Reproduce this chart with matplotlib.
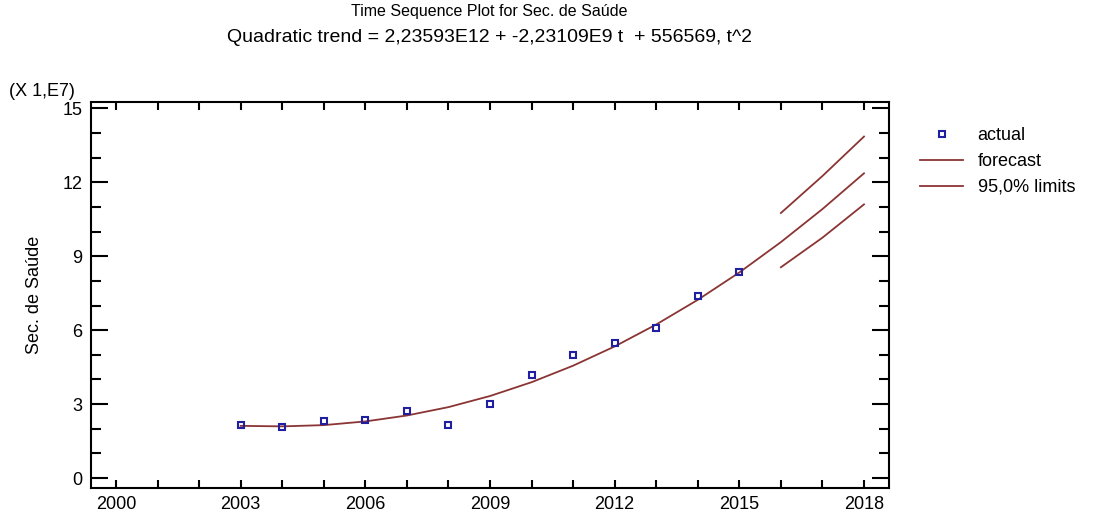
"""# Modulo Grafico"""
import matplotlib.pyplot as plt
from matplotlib.ticker import MultipleLocator

"""# Fonte parecida com a do Statgraphics (Arial)"""
plt.rcParams['font.family'] = ['Liberation Sans', 'DejaVu Sans']

"""#### Dados (valores em unidades de 1E7)"""
anos = [2003, 2004, 2005, 2006, 2007, 2008, 2009, 2010, 2011, 2012, 2013, 2014, 2015]
valores_reais = [2.17, 2.06, 2.30, 2.34, 2.74, 2.14, 3.02, 4.20, 5.00, 5.48, 6.10, 7.40, 8.37]

anos_previsao = [2003, 2004, 2005, 2006, 2007, 2008, 2009, 2010, 2011, 2012,
                 2013, 2014, 2015, 2016, 2017, 2018]
valores_previsao = [2.12, 2.10, 2.15, 2.30, 2.54, 2.88, 3.33, 3.89, 4.56, 5.34,
                    6.23, 7.23, 8.34, 9.57, 10.91, 12.36]

anos_limites = [2016, 2017, 2018]
limite_superior = [10.75, 12.25, 13.85]
limite_inferior = [8.55, 9.75, 11.10]

cor_linha = '#8b3434'
cor_ponto = '#1f1fa0'

"""# Criando a figura"""
fig = plt.figure(figsize=(10.93, 5.2), dpi=100)
ax = fig.add_axes([0.0833, 0.0615, 0.730, 0.7423])

"""# Linhas de previsao e limites"""
ax.plot(anos_previsao, valores_previsao, color=cor_linha, lw=1.3, label='forecast')
ax.plot(anos_limites, limite_superior, color=cor_linha, lw=1.3, label='95,0% limits')
ax.plot(anos_limites, limite_inferior, color=cor_linha, lw=1.3)

"""# Pontos reais"""
ax.plot(anos, valores_reais, linestyle='none', marker='s', markersize=5,
        markerfacecolor='none', markeredgecolor=cor_ponto, markeredgewidth=1.5,
        label='actual')

"""# Eixos"""
ax.set_xlim(1999.4, 2018.6)
ax.set_ylim(-0.4, 15.25)
ax.set_xticks([2000, 2003, 2006, 2009, 2012, 2015, 2018])
ax.xaxis.set_minor_locator(MultipleLocator(1))
ax.set_yticks([0, 3, 6, 9, 12, 15])
ax.yaxis.set_minor_locator(MultipleLocator(1))
ax.tick_params(axis='x', which='both', direction='in', length=6, width=1.5,
               top=True, labelsize=13, pad=6)
ax.tick_params(axis='y', which='major', direction='in', length=12, width=1.5,
               right=True, labelsize=13, pad=6)
ax.tick_params(axis='y', which='minor', direction='in', length=7, width=1.5, right=True)
for lado in ax.spines.values():
    lado.set_linewidth(1.5)

ax.set_ylabel('Sec. de Saúde', fontsize=13, labelpad=14)
fig.text(0.008, 0.825, '(X 1,E7)', fontsize=13, ha='left', va='center')

"""# Titulo"""
fig.text(0.448, 0.978, 'Time Sequence Plot for Sec. de Saúde', fontsize=11.5,
         ha='center', va='center')
fig.text(0.448, 0.927, 'Quadratic trend = 2,23593E12 + -2,23109E9 t  + 556569, t^2',
         fontsize=14, ha='center', va='center')

"""# Legenda fora do grafico"""
h, l = ax.get_legend_handles_labels()
ax.legend([h[2], h[0], h[1]], [l[2], l[0], l[1]], loc='upper left',
          bbox_to_anchor=(0.835, 0.77), bbox_transform=fig.transFigure,
          frameon=False, fontsize=13, handlelength=2.4, handletextpad=0.8,
          labelspacing=0.5, borderaxespad=0, markerscale=0.8)

plt.savefig('out.png', dpi=100)
